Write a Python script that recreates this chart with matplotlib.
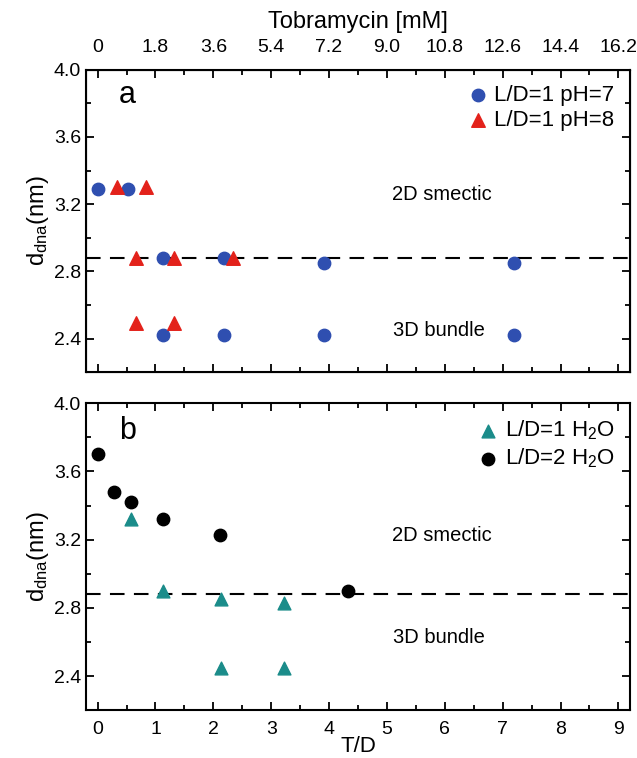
import numpy as np
import matplotlib
matplotlib.use('Agg')
import matplotlib.pyplot as plt
from matplotlib.ticker import MultipleLocator

# panel a
blue_x = [0, 0.53, 1.13, 1.13, 2.19, 2.19, 3.92, 3.92, 7.2, 7.2]
blue_y = [3.29, 3.29, 2.88, 2.42, 2.88, 2.42, 2.85, 2.42, 2.85, 2.42]
red_x = [0.34, 0.83, 0.67, 1.32, 2.34, 0.67, 1.32]
red_y = [3.30, 3.30, 2.88, 2.88, 2.88, 2.49, 2.49]

# panel b
teal_x = [0.57, 1.13, 2.13, 3.23, 2.13, 3.23]
teal_y = [3.32, 2.90, 2.85, 2.83, 2.45, 2.45]
black_x = [0, 0.28, 0.57, 1.13, 2.12, 4.32]
black_y = [3.70, 3.48, 3.42, 3.32, 3.23, 2.90]

boundary = 2.88
top_ticks = [0, 1.8, 3.6, 5.4, 7.2, 9.0, 10.8, 12.6, 14.4, 16.2]
top_labels = ['0', '1.8', '3.6', '5.4', '7.2', '9.0', '10.8', '12.6', '14.4', '16.2']

plt.rcParams['font.family'] = ['Liberation Sans', 'DejaVu Sans']
plt.rcParams['mathtext.fontset'] = 'custom'
plt.rcParams['mathtext.rm'] = 'Liberation Sans'
plt.rcParams['mathtext.it'] = 'Liberation Sans'

narrow = ['Liberation Sans Narrow', 'DejaVu Sans Condensed', 'Liberation Sans']

fig = plt.figure(figsize=(6.37, 7.58), dpi=100)
ax_a = fig.add_axes([0.135, 0.509, 0.854, 0.399])
ax_b = fig.add_axes([0.135, 0.063, 0.854, 0.405])

xlim = (-0.2, 9.2)
tick_fs = 14


def style_axis(ax, smectic_y, bundle_y):
    ax.set_xlim(*xlim)
    ax.set_ylim(2.2, 4.0)
    ax.yaxis.set_minor_locator(MultipleLocator(0.2))
    ax.xaxis.set_major_locator(MultipleLocator(1))
    ax.xaxis.set_minor_locator(MultipleLocator(0.5))
    ax.tick_params(which='both', direction='in', top=True, right=True, width=1.3)
    ax.tick_params(which='major', length=6)
    ax.tick_params(which='minor', length=3.5)
    ax.tick_params(labelright=False, labeltop=False)
    for s in ax.spines.values():
        s.set_linewidth(1.5)
    ax.set_yticks([2.4, 2.8, 3.2, 3.6, 4.0])
    ax.set_yticklabels(['2.4', '2.8', '3.2', '3.6', '4.0'], fontsize=tick_fs, family=narrow)
    ax.axhline(boundary, color='black', lw=1.5, dashes=(7, 4.5), zorder=1)
    ax.set_ylabel('d$_{dna}$(nm)', fontsize=17, labelpad=2)
    ax.text(0.655, smectic_y, '2D smectic', transform=ax.transAxes,
            fontsize=14.5, ha='center', va='center')
    ax.text(0.648, bundle_y, '3D bundle', transform=ax.transAxes,
            fontsize=14.5, ha='center', va='center')


style_axis(ax_a, 0.586, 0.139)
style_axis(ax_b, 0.57, 0.238)

ax_a.scatter(blue_x, blue_y, s=80, marker='o', color='#2F4FB0', label='L/D=1 pH=7', zorder=3)
ax_a.scatter(red_x, red_y, s=95, marker='^', color='#E3221B', label='L/D=1 pH=8', zorder=3)
ax_a.tick_params(labelbottom=False)
ax_a.text(0.06, 0.915, 'a', transform=ax_a.transAxes, fontsize=22, va='center')

top = ax_a.twiny()
top.set_xlim(xlim[0] * 1.8, xlim[1] * 1.8)
top.set_xticks(top_ticks)
top.set_xticklabels(top_labels, fontsize=tick_fs, family=narrow)
top.xaxis.set_minor_locator(MultipleLocator(0.9))
top.tick_params(which='both', direction='in', width=1.3)
top.tick_params(which='major', length=6, pad=10)
top.tick_params(which='minor', length=3.5)
top.set_xlabel('Tobramycin [mM]', fontsize=17, labelpad=8)

ax_b.scatter(teal_x, teal_y, s=85, marker='^', color='#1B8C8A', label='L/D=1 H$_2$O', zorder=3)
ax_b.scatter(black_x, black_y, s=80, marker='o', color='black', label='L/D=2 H$_2$O', zorder=3)
ax_b.set_xticks(range(10))
ax_b.set_xticklabels([str(i) for i in range(10)], fontsize=tick_fs, family=narrow)
ax_b.tick_params(axis='x', pad=8)
ax_b.set_xlabel('T/D', fontsize=16, labelpad=-2)
ax_b.text(0.06, 0.91, 'b', transform=ax_b.transAxes, fontsize=22, va='center')

for ax in (ax_a, ax_b):
    ax.legend(loc='upper right', frameon=False, fontsize=16, handletextpad=0.25,
              borderaxespad=0.4, borderpad=0.3, labelspacing=0.18, handlelength=1.0)

fig.savefig('out.png', dpi=100)
